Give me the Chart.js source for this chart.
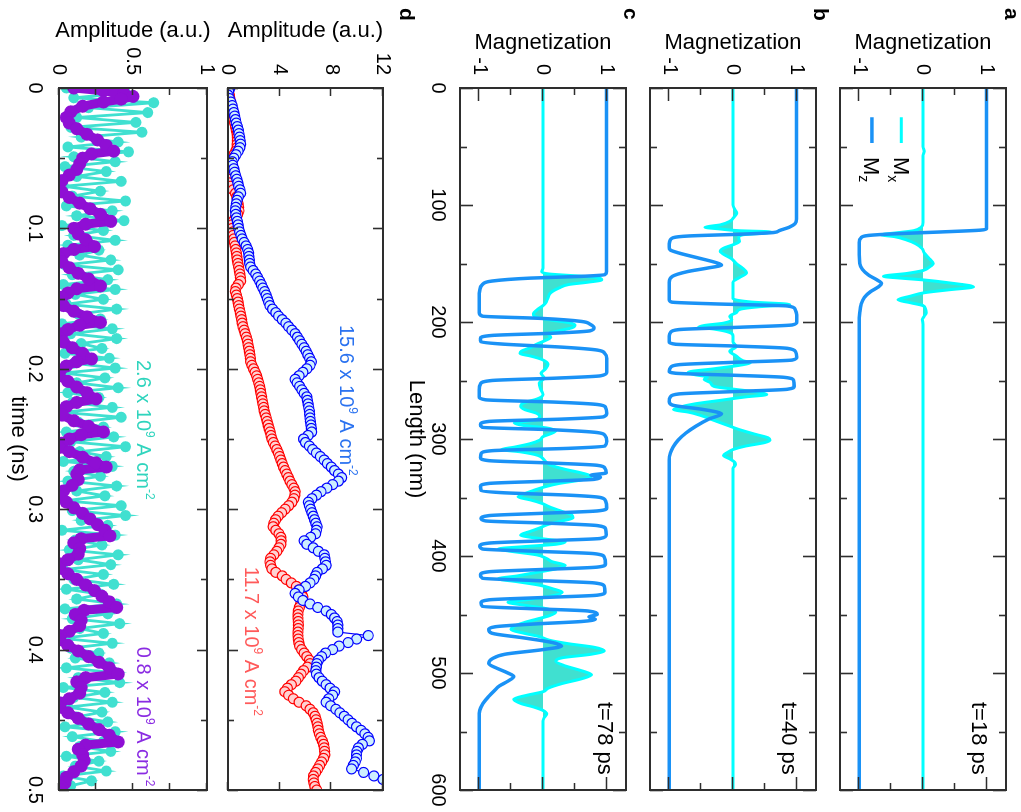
<!DOCTYPE html>
<html><head><meta charset="utf-8">
<script src="https://cdn.jsdelivr.net/npm/chart.js@4.4.1/dist/chart.umd.min.js"></script>
<style>
html,body{margin:0;padding:0;background:#fff;overflow:hidden;width:1021px;height:812px;}
#page{position:absolute;left:0;top:0;width:812px;height:1021px;transform-origin:0 0;transform:translate(1021px,0) rotate(90deg);background:#fff;}
#page canvas{position:absolute;left:0;}
</style></head><body>
<div id="page">
<canvas id="ca" width="812" height="200" style="top:0px"></canvas>
<canvas id="cb" width="812" height="200" style="top:190px"></canvas>
<canvas id="cc" width="812" height="250" style="top:380px"></canvas>
<canvas id="cd1" width="812" height="215" style="top:595px"></canvas>
<canvas id="cd2" width="812" height="231" style="top:790px"></canvas>
</div>
<script>
// ================= DATA =================
const lengthTicks = [0, 100, 200, 300, 400, 500, 600];
const lengthTickLabels = ['0', '100', '200', '300', '400', '500', '600'];
const lengthMinorTicks = [50, 150, 250, 350, 450, 550];
const magTicks = [-1, 0, 1];
const magTickLabels = ['-1', '0', '1'];
const magMinorTicks = [-0.5, 0.5];
const timeTicks = [0, 0.1, 0.2, 0.3, 0.4, 0.5];
const timeTickLabels = ['0', '0.1', '0.2', '0.3', '0.4', '0.5'];
const timeMinorTicks = [0.05, 0.15, 0.25, 0.35, 0.45];
const ampTopTicks = [0, 4, 8, 12];
const ampTopTickLabels = ['0', '4', '8', '12'];
const ampBottomTicks = [0, 0.5, 1];
const ampBottomTickLabels = ['0', '0.5', '1'];
const ampBottomMinorTicks = [0.25, 0.75];

// Panel a (t = 18 ps): [length nm, magnetization]
const aMz = [[0,0.995],[120.5,0.995],[121.5,0.9],[123,0.3],[124.5,-0.4],[126,-0.85],[128,-0.97],[132,-1.0],[150,-0.99],[155,-0.95],[160,-0.85],[164,-0.72],[167,-0.65],[170,-0.7],[174,-0.82],[179,-0.92],[185,-0.97],[192,-0.99],[200,-1.0],[600,-1.0]];
const aMx = [[0,0],[50,0],[54,0.02],[58,0],[115,0],[119,-0.03],[122,-0.15],[124,-0.45],[125.5,-0.67],[127,-0.45],[130,-0.25],[133,-0.12],[137,-0.02],[141,0.02],[146,0.1],[150,0.16],[153,0.1],[156,0.0],[158.5,-0.25],[161,-0.62],[162.5,-0.35],[164,0],[166.5,0.4],[170,0.79],[172.5,0.4],[175,0.02],[178,-0.2],[181,-0.39],[183.5,-0.2],[186,0],[189,0.04],[192,0.05],[195,0.02],[198,-0.01],[202,0],[600,0]];

// Panel b (t = 40 ps)
const bMz = [[0,0.995],[112,0.995],[116,0.97],[119,0.88],[122,0.72],[123.5,0.64],[125,0.1],[126.5,-0.7],[128,-0.94],[131,-0.99],[136,-1.0],[138.5,-0.98],[141,-0.85],[145.6,-0.52],[149.5,-0.25],[151.3,-0.18],[154,-0.41],[157,-0.72],[161,-0.95],[166,-1.0],[181,-1.0],[183,-0.96],[184.5,-0.3],[186.3,0.85],[189,0.97],[194,1.0],[200,1.0],[202.5,0.93],[204.5,0.1],[206.5,-0.85],[209,-0.98],[212,-1.0],[217,-1.0],[219,-0.9],[220.5,0.0],[222.5,0.85],[225.5,0.98],[230,1.0],[232.5,0.93],[234.5,0.0],[236.5,-0.85],[239,-0.98],[242,-1.0],[243.8,-0.9],[245.5,0.0],[247.3,0.8],[250,0.95],[255,0.96],[257.5,0.85],[259.5,0.0],[261.5,-0.85],[264,-0.98],[268,-1.0],[271,-0.95],[274.5,-0.5],[277,-0.25],[278.5,-0.18],[283,-0.38],[289,-0.58],[295,-0.74],[301,-0.86],[307,-0.94],[312,-0.98],[318,-1.0],[600,-1.0]];
const bMx = [[0,0],[100,0],[104,0.03],[107,0.06],[110,0.02],[114,-0.05],[117,-0.2],[119,-0.44],[120.5,-0.2],[122,0.1],[123,0.6],[124,0.5],[125.5,0.15],[128,0.09],[131,0.1],[134,0],[137,-0.15],[139.5,-0.2],[142,-0.15],[146,-0.02],[150,0.05],[154,0.15],[158,0.21],[162,0.1],[166,0.0],[180,0.0],[183,0.3],[185,0.89],[187,0.4],[189,0.12],[192,0.05],[195,-0.05],[198,-0.02],[201,-0.15],[203,-0.45],[204.5,-0.54],[206,-0.3],[209,-0.05],[212,0],[217,0.0],[221,0.05],[225,-0.05],[229,0.05],[233,0.15],[235,0.27],[237,0.1],[240,-0.3],[243,-0.7],[245,-0.6],[247,-0.4],[249,-0.45],[252,-0.35],[255,-0.3],[258,0.1],[260,0.4],[262,0.53],[264,0.2],[267,-0.2],[270,-0.6],[273,-0.85],[275,-0.93],[277,-0.7],[280,-0.5],[284,-0.3],[288,-0.1],[292,0.1],[296,0.35],[299,0.55],[301,0.58],[303,0.5],[306,0.2],[309,0.0],[312,-0.1],[314,-0.15],[317,-0.05],[320,0.03],[322,0.04],[325,0],[600,0]];

// Panel c (t = 78 ps)
const cMz = [[0,0.995],[157,0.995],[159.5,0.97],[161,0.6],[162.5,-0.2],[165,-0.8],[168,-0.95],[173,-0.99],[178,-1.0],[192,-1.0],[195,-0.95],[197,0.0],[199.5,0.6],[202,0.74],[205,0.8],[207.5,0.74],[209.5,0.2],[211.5,-0.8],[214,-0.98],[217,-0.97],[219,-0.6],[221.5,0.3],[224,0.85],[227,0.97],[231,1.0],[243,1.0],[246,0.9],[248,0.2],[250,-0.8],[253,-0.98],[258,-1.0],[264,-1.0],[266.5,-0.9],[268.5,0.2],[270.5,0.85],[273,0.98],[278,1.0],[281,0.95],[283,0.3],[285,-0.85],[287.5,-0.98],[290,-0.95],[292,0.1],[294.5,0.85],[297,0.97],[302,1.0],[306,0.97],[308,0.4],[310,-0.8],[312.5,-0.97],[316,-0.98],[318.5,-0.85],[320.5,0.1],[322.5,0.85],[325,0.97],[329,0.99],[331,0.75],[332.5,0.9],[334.5,0.8],[336,0.1],[338,-0.85],[340.5,-0.98],[344,-0.97],[346,-0.6],[348,0.4],[350,0.9],[353,0.98],[359,1.0],[361.5,0.85],[363.5,0.0],[365.5,-0.85],[368,-0.97],[370,-0.9],[372,0.1],[374,0.85],[377,0.98],[382,0.99],[385,0.9],[387,0.0],[389,-0.85],[391.5,-0.99],[394,-0.95],[396,-0.1],[398,0.8],[401,0.96],[407,0.98],[409.5,0.85],[411.5,0.0],[413.5,-0.85],[416,-0.98],[419,-0.95],[421,-0.1],[423,0.8],[426,0.96],[431,0.97],[433.5,0.85],[435.5,0.0],[437.5,-0.85],[440,-0.97],[443,-0.95],[445,-0.2],[447,0.7],[450,0.85],[452,0.72],[454,0.82],[456,0.6],[458,-0.1],[460.5,-0.75],[463,-0.85],[466,-0.8],[470,-0.3],[474,0.15],[477,0.29],[480,0.0],[484,-0.6],[488,-0.8],[492,-0.85],[496,-0.72],[500,-0.55],[503,-0.46],[507,-0.55],[511,-0.68],[515,-0.76],[520,-0.85],[526,-0.94],[532,-0.99],[538,-1.0],[600,-1.0]];
const cMx = [[0,0],[154,0],[157,-0.02],[159,0.1],[160.5,0.5],[162,0.85],[164,0.92],[166,0.7],[168,0.4],[171,0.25],[175,0.12],[179,0.08],[183,0.05],[186,0.0],[189,-0.08],[192,-0.14],[194,-0.15],[196.5,-0.06],[198.5,0.15],[200.5,0.4],[202.5,0.5],[205,0.45],[207.5,0.25],[210,0.08],[213,0.12],[216,0.03],[219,-0.1],[222,-0.2],[225,-0.34],[227,-0.36],[229,-0.2],[232,-0.02],[236,0.08],[240,0.04],[244,-0.03],[248,0.02],[252,-0.06],[257,-0.04],[262,0.0],[266,-0.1],[269,-0.3],[272,-0.35],[275,-0.28],[278,-0.1],[281,-0.05],[284,-0.15],[286.5,-0.45],[288.5,-0.3],[290.5,0.05],[293,0.2],[295.5,0.12],[298,0.0],[301,-0.05],[304,-0.2],[307,-0.45],[309,-0.65],[311,-0.35],[314,-0.08],[318,0.02],[322,0.1],[326,0.35],[329,0.6],[332,0.76],[335,0.6],[338,0.25],[341,0.02],[344,-0.15],[347,-0.3],[349.5,-0.39],[352,-0.2],[355,-0.02],[358,0.1],[362,0.3],[365,0.45],[367.5,0.47],[370,0.3],[373,0.08],[376,-0.05],[379,-0.2],[382,-0.35],[384,-0.2],[386,0.1],[388,0.35],[390,0.2],[392,-0.3],[394,-0.7],[396,-0.5],[399,-0.1],[402,0.05],[405,0.15],[408,0.35],[411,0.2],[414,-0.1],[417,-0.4],[419.5,-0.7],[422,-0.4],[425,-0.05],[428,0.15],[431,0.3],[434,0.15],[437,-0.2],[439.5,-0.55],[442,-0.3],[445,0.05],[448,0.2],[451,0.1],[454,-0.1],[457,-0.3],[460,-0.45],[463,-0.5],[466,-0.3],[469,-0.05],[472,0.1],[475,0.4],[478,0.8],[481,0.96],[484,0.75],[487,0.3],[490,0.2],[494,0.35],[498,0.6],[501.5,0.76],[505,0.6],[509,0.3],[513,0.08],[516,0.0],[519,-0.25],[522.5,-0.46],[526,-0.35],[529,-0.15],[532,0.0],[535,0.06],[538,0.02],[541,0.0],[600,0]];

// Panel d (top): amplitude vs time, sampled every 0.0025 ns
const dSampleStep = 0.0025;
const amp156 = [0.15,0.05,0.0,0.1,0.22,0.32,0.38,0.45,0.52,0.58,
 0.64,0.72,0.8,0.85,0.9,0.94,0.97,0.92,0.78,0.62,
 0.45,0.33,0.36,0.45,0.52,0.6,0.68,0.76,0.83,0.93,
 0.97,0.8,0.7,0.65,0.6,0.57,0.6,0.66,0.72,0.78,
 0.83,0.9,1.0,1.1,1.25,1.4,1.52,1.6,1.62,1.65,
 1.68,1.75,1.95,2.15,2.3,2.45,2.58,2.7,2.84,2.95,
 3.05,3.15,3.25,3.45,3.7,3.92,4.2,4.48,4.7,4.95,
 5.2,5.38,5.55,5.72,5.9,6.05,6.18,6.32,6.45,6.35,
 6.1,5.8,5.5,5.2,5.35,5.55,5.72,5.9,6.1,6.15,
 6.2,6.25,6.3,6.32,6.35,6.38,6.42,6.45,6.48,6.2,
 5.85,6.0,6.3,6.55,6.85,7.15,7.45,7.7,8.0,8.25,
 8.55,8.8,8.55,8.1,7.65,7.2,6.85,6.5,6.22,6.3,
 6.4,6.5,6.6,6.7,6.8,6.9,6.85,6.78,6.4,5.9,
 6.1,6.6,7.0,7.45,7.5,7.55,7.6,7.3,6.9,6.78,
 6.65,6.35,6.0,5.5,5.2,5.45,5.8,6.35,6.95,7.6,
 8.0,8.25,8.45,8.5,8.5,8.5,10.86,9.96,9.3,8.6,
 8.1,7.55,7.25,7.0,6.88,6.84,6.8,6.85,7.05,7.3,
 7.6,7.9,8.25,8.1,7.8,7.6,7.95,8.35,8.66,9.0,
 9.3,9.6,9.95,10.3,10.6,10.85,10.95,10.4,10.1,9.98,
 9.95,9.95,9.85,9.7,9.57,10.5,11.3,12.0];
const amp117 = [0.0,0.05,0.1,0.15,0.2,0.25,0.3,0.35,0.4,0.45,
 0.52,0.58,0.64,0.7,0.72,0.72,0.71,0.7,0.6,0.45,
 0.32,0.2,0.15,0.1,0.06,0.04,0.03,0.05,0.2,0.4,
 0.58,0.68,0.72,0.78,0.83,0.85,0.75,0.55,0.4,0.3,
 0.32,0.36,0.4,0.45,0.5,0.55,0.6,0.65,0.68,0.72,
 0.77,0.82,0.87,0.92,0.96,0.98,0.8,0.62,0.57,0.65,
 0.72,0.78,0.83,0.88,0.95,1.0,1.06,1.1,1.16,1.25,
 1.33,1.42,1.5,1.55,1.6,1.65,1.7,1.73,1.75,1.85,
 1.98,2.1,2.22,2.3,2.38,2.45,2.5,2.55,2.6,2.65,
 2.7,2.76,2.8,2.88,2.96,3.03,3.1,3.18,3.26,3.33,
 3.4,3.52,3.65,3.78,3.9,4.0,4.1,4.2,4.3,4.42,
 4.55,4.68,4.8,4.95,5.1,5.2,5.18,5.1,4.95,4.7,
 4.42,4.15,3.88,3.68,3.55,3.5,3.7,3.95,4.1,4.12,
 4.1,3.95,3.78,3.55,3.3,3.25,3.3,3.4,3.7,4.2,
 4.5,4.9,5.3,5.5,5.7,5.8,5.72,5.62,5.52,5.44,
 5.42,5.42,5.44,5.45,5.44,5.42,5.42,5.44,5.48,5.55,
 5.7,5.9,6.1,6.3,6.35,6.15,5.85,5.65,5.45,5.25,
 4.9,4.6,4.4,4.7,5.06,5.5,6.05,6.35,6.6,6.74,
 6.82,6.9,6.96,7.0,7.08,7.18,7.3,7.4,7.45,7.48,
 7.5,7.4,7.25,7.1,6.95,6.78,6.62,6.6,6.65,6.72,
 6.87];

// Panel d (bottom)
const tealStep = 0.0035;
const amp26 = [0.05,0.45,0.10,0.64,0.20,0.60,0.12,0.52,0.08,0.56,
 0.15,0.40,0.06,0.47,0.10,0.38,0.04,0.32,0.12,0.42,
 0.03,0.28,0.09,0.45,0.05,0.36,0.12,0.44,0.02,0.30,
 0.10,0.38,0.06,0.27,0.14,0.35,0.04,0.40,0.09,0.33,
 0.03,0.38,0.11,0.30,0.05,0.39,0.13,0.28,0.02,0.36,
 0.08,0.39,0.15,0.29,0.04,0.34,0.10,0.38,0.03,0.31,
 0.12,0.40,0.06,0.27,0.09,0.36,0.02,0.42,0.13,0.30,
 0.05,0.37,0.08,0.45,0.14,0.32,0.03,0.36,0.10,0.28,
 0.06,0.39,0.12,0.31,0.04,0.42,0.09,0.45,0.15,0.33,
 0.02,0.38,0.11,0.29,0.07,0.40,0.13,0.35,0.03,0.30,
 0.10,0.37,0.05,0.28,0.12,0.39,0.04,0.33,0.09,0.41,
 0.14,0.30,0.02,0.36,0.08,0.27,0.11,0.34,0.05,0.38,
 0.13,0.41,0.03,0.31,0.10,0.36,0.06,0.29,0.12,0.33,
 0.04,0.38,0.09,0.30,0.14,0.35,0.05,0.27,0.11,0.32,
 0.03,0.22,0.08];
const amp08 = [[0.000,0.10],[0.002,0.30],[0.004,0.44],[0.006,0.50],[0.008,0.42],[0.010,0.30],[0.013,0.16],[0.017,0.08],[0.021,0.05],[0.025,0.07],[0.029,0.12],[0.033,0.19],[0.037,0.26],[0.041,0.32],[0.045,0.37],[0.047,0.22],[0.050,0.16],[0.054,0.14],[0.058,0.12],[0.062,0.07],[0.066,0.02],[0.070,0.00],[0.074,0.02],[0.078,0.07],[0.082,0.14],[0.086,0.21],[0.090,0.28],[0.095,0.35],[0.097,0.18],[0.100,0.10],[0.104,0.13],[0.108,0.18],[0.113,0.24],[0.115,0.10],[0.118,0.03],[0.121,0.00],[0.124,0.02],[0.128,0.07],[0.132,0.13],[0.136,0.20],[0.141,0.28],[0.143,0.12],[0.146,0.06],[0.149,0.02],[0.152,0.00],[0.155,0.03],[0.159,0.10],[0.163,0.19],[0.167,0.28],[0.169,0.14],[0.172,0.06],[0.175,0.02],[0.178,0.00],[0.181,0.03],[0.185,0.09],[0.189,0.16],[0.193,0.22],[0.195,0.12],[0.198,0.05],[0.201,0.01],[0.205,0.00],[0.209,0.06],[0.213,0.12],[0.217,0.19],[0.2215,0.25],[0.224,0.12],[0.227,0.05],[0.230,0.01],[0.233,0.02],[0.237,0.10],[0.241,0.20],[0.245,0.30],[0.247,0.15],[0.250,0.07],[0.253,0.02],[0.256,0.00],[0.259,0.07],[0.263,0.16],[0.267,0.25],[0.270,0.32],[0.272,0.14],[0.275,0.12],[0.279,0.13],[0.283,0.09],[0.287,0.03],[0.291,0.00],[0.295,0.05],[0.299,0.10],[0.303,0.16],[0.307,0.21],[0.311,0.26],[0.315,0.31],[0.319,0.345],[0.321,0.15],[0.324,0.10],[0.328,0.14],[0.332,0.13],[0.336,0.06],[0.339,0.01],[0.342,0.00],[0.346,0.06],[0.350,0.12],[0.354,0.18],[0.358,0.24],[0.362,0.29],[0.366,0.34],[0.370,0.39],[0.372,0.17],[0.375,0.11],[0.379,0.15],[0.383,0.14],[0.387,0.07],[0.390,0.01],[0.393,0.00],[0.397,0.06],[0.401,0.13],[0.405,0.20],[0.409,0.27],[0.413,0.34],[0.4174,0.40],[0.420,0.18],[0.423,0.12],[0.427,0.15],[0.431,0.14],[0.435,0.07],[0.438,0.01],[0.441,0.00],[0.445,0.06],[0.449,0.13],[0.453,0.20],[0.457,0.27],[0.461,0.34],[0.4658,0.40],[0.468,0.18],[0.471,0.13],[0.475,0.16],[0.479,0.17],[0.483,0.15],[0.487,0.10],[0.491,0.05],[0.495,0.04],[0.498,0.02],[0.500,0.01]];

// Texts
const noteBlue = [['15.6 x 10'], ['9', 'sup'], [' A cm'], ['-2', 'sup']];
const noteRed = [['11.7 x 10'], ['9', 'sup'], [' A cm'], ['-2', 'sup']];
const noteTeal = [['2.6 x 10'], ['9', 'sup'], [' A cm'], ['-2', 'sup']];
const notePurple = [['0.8 x 10'], ['9', 'sup'], [' A cm'], ['-2', 'sup']];

// ================= RENDERING =================
const FONT = '"Liberation Sans", Arial, Helvetica, sans-serif';
const MZ_COLOR = '#1a92f6';
const MX_LINE = '#00ffff';
const MX_FILL = '#40e0d0';

function drawRich(ctx, parts, x, y, color, align, size) {
  const base = size + 'px ' + FONT;
  const small = Math.round(size * 0.62) + 'px ' + FONT;
  let w = 0;
  parts.forEach(p => { ctx.font = p[1] ? small : base; w += ctx.measureText(p[0]).width; });
  let cx = align === 'right' ? x - w : x;
  ctx.fillStyle = color; ctx.textBaseline = 'alphabetic'; ctx.textAlign = 'left';
  parts.forEach(p => {
    ctx.font = p[1] ? small : base;
    const dy = p[1] === 'sup' ? -size * 0.45 : (p[1] === 'sub' ? size * 0.25 : 0);
    ctx.fillText(p[0], cx, y + dy);
    cx += ctx.measureText(p[0]).width;
  });
}

const framePlugin = {
  id: 'frame',
  afterDatasetsDraw(chart, args, o) {
    const {ctx, chartArea: a} = chart;
    const xs = chart.scales.x, ys = chart.scales.y;
    ctx.save();
    ctx.strokeStyle = '#2e2e2e';
    ctx.lineWidth = 1.6;
    const xt = (vals, len) => vals.forEach(v => {
      const p = Math.round(xs.getPixelForValue(v)) + 0.5;
      ctx.beginPath(); ctx.moveTo(p, a.bottom); ctx.lineTo(p, a.bottom - len);
      ctx.moveTo(p, a.top); ctx.lineTo(p, a.top + len); ctx.stroke();
    });
    const yt = (vals, len) => vals.forEach(v => {
      const p = Math.round(ys.getPixelForValue(v)) + 0.5;
      ctx.beginPath(); ctx.moveTo(a.left, p); ctx.lineTo(a.left + len, p);
      ctx.moveTo(a.right, p); ctx.lineTo(a.right - len, p); ctx.stroke();
    });
    xt(o.xMajor || [], o.xMajorLen); xt(o.xMinor || [], o.xMinorLen);
    yt(o.yMajor || [], o.yMajorLen); yt(o.yMinor || [], o.yMinorLen);
    ctx.lineWidth = 2;
    ctx.strokeRect(a.left, a.top, a.right - a.left, a.bottom - a.top);
    ctx.restore();
  }
};

const notesPlugin = {
  id: 'notes',
  afterDraw(chart, args, o) {
    const {ctx} = chart;
    const xs = chart.scales.x, ys = chart.scales.y;
    ctx.save();
    (o.lines || []).forEach(l => {
      ctx.strokeStyle = l.color; ctx.lineWidth = l.width;
      const y = ys.getPixelForValue(l.y);
      ctx.beginPath(); ctx.moveTo(xs.getPixelForValue(l.x1), y); ctx.lineTo(xs.getPixelForValue(l.x2), y); ctx.stroke();
    });
    (o.texts || []).forEach(t => {
      drawRich(ctx, t.parts, xs.getPixelForValue(t.x), ys.getPixelForValue(t.y), t.color, t.align, t.size);
    });
    if (o.letter) {
      ctx.font = 'bold 21px ' + FONT; ctx.fillStyle = '#000';
      ctx.textAlign = 'left'; ctx.textBaseline = 'alphabetic';
      ctx.fillText(o.letter.text, o.letter.px, o.letter.py);
    }
    ctx.restore();
  }
};

function yAxis(min, max, ticks, labels, title, titlePad) {
  return {
    type: 'linear', position: 'left', min: min, max: max,
    grid: {display: false}, border: {display: false},
    afterBuildTicks: s => { s.ticks = ticks.map(v => ({value: v})); },
    ticks: {autoSkip: false, color: '#000', padding: 5, font: {family: FONT, size: 20}, callback: (v, i) => labels[i]},
    title: {display: true, text: title, color: '#000', font: {family: FONT, size: 22}, padding: {top: titlePad, bottom: 0}},
    afterFit: s => { s.width = 88; s.paddingTop = 0; s.paddingBottom = 0; }
  };
}
function xAxis(max, ticks, labels, show, title, height, labelPad, titlePadBottom) {
  return {
    type: 'linear', position: 'bottom', min: 0, max: max,
    grid: {display: false}, border: {display: false},
    afterBuildTicks: s => { s.ticks = ticks.map(v => ({value: v})); },
    ticks: {display: show, autoSkip: false, maxRotation: 0, minRotation: 0, color: '#000', padding: labelPad, font: {family: FONT, size: 20}, callback: (v, i) => labels[i]},
    title: {display: !!title, text: title || '', color: '#000', font: {family: FONT, size: 22}, padding: {top: 0, bottom: titlePadBottom}},
    afterFit: s => { s.height = height; s.paddingLeft = 0; s.paddingRight = 0; }
  };
}
const toXY = arr => arr.map(p => ({x: p[0], y: p[1]}));

function magChart(id, mz, mx, showX, xH, timeText, timeY, letter, letterPy, legend) {
  const notes = {
    texts: [{parts: [[timeText]], x: 587, y: timeY, color: '#000', align: 'right', size: 22}],
    letter: {text: letter, px: 8, py: letterPy}
  };
  if (legend) {
    notes.lines = [
      {x1: 25, x2: 47, y: -0.34, color: MX_LINE, width: 3},
      {x1: 25, x2: 47, y: -0.80, color: MZ_COLOR, width: 3.5}
    ];
    notes.texts.push({parts: [['M'], ['x', 'sub']], x: 59, y: -0.34 - 0.12, color: '#000', align: 'left', size: 22});
    notes.texts.push({parts: [['M'], ['z', 'sub']], x: 59, y: -0.80 - 0.12, color: '#000', align: 'left', size: 22});
  }
  return new Chart(document.getElementById(id), {
    type: 'line',
    data: {datasets: [
      {label: 'Mz', data: toXY(mz), borderColor: MZ_COLOR, borderWidth: 3.5, pointRadius: 0, fill: false, cubicInterpolationMode: 'monotone'},
      {label: 'Mx', data: toXY(mx), borderColor: MX_LINE, backgroundColor: MX_FILL, borderWidth: 3, pointRadius: 0, fill: 'origin', cubicInterpolationMode: 'monotone'}
    ]},
    options: {
      responsive: false, animation: false, events: [],
      layout: {padding: {top: 15, right: 22, left: 0, bottom: 0}},
      plugins: {
        legend: {display: false}, tooltip: {enabled: false},
        frame: {xMajor: lengthTicks, xMinor: lengthMinorTicks, yMajor: magTicks, yMinor: magMinorTicks, xMajorLen: 13, xMinorLen: 7, yMajorLen: 13, yMinorLen: 7},
        notes: notes
      },
      scales: {
        x: xAxis(600, lengthTicks, lengthTickLabels, showX, showX ? 'Length (nm)' : '', xH, 2, 12),
        y: yAxis(-1.3, 1.3, magTicks, magTickLabels, 'Magnetization', 30)
      }
    },
    plugins: [framePlugin, notesPlugin]
  });
}

magChart('ca', aMz, aMx, false, 19, 't=18 ps', 0.77, 'a', 16, true);
magChart('cb', bMz, bMx, false, 19, 't=40 ps', 0.77, 'b', 17, false);
magChart('cc', cMz, cMx, true, 69, 't=78 ps', 0.86, 'c', 17, false);

// Panel d top
new Chart(document.getElementById('cd1'), {
  type: 'line',
  data: {datasets: [
    {label: '15.6', data: amp156.map((v, i) => ({x: i * dSampleStep, y: v})), borderColor: '#0000ff', borderWidth: 1.2,
     pointRadius: 5, pointBorderWidth: 1.2, pointBorderColor: '#0000ff', pointBackgroundColor: '#cdeeff', tension: 0},
    {label: '11.7', data: amp117.map((v, i) => ({x: i * dSampleStep, y: v})), borderColor: '#ff0000', borderWidth: 1.2,
     pointRadius: 5, pointBorderWidth: 1.2, pointBorderColor: '#ff0000', pointBackgroundColor: '#ffd2d2', tension: 0}
  ]},
  options: {
    responsive: false, animation: false, events: [],
    layout: {padding: {top: 43, right: 22, left: 0, bottom: 0}},
    plugins: {
      legend: {display: false}, tooltip: {enabled: false},
      frame: {xMajor: timeTicks, xMinor: timeMinorTicks, yMajor: ampTopTicks, yMinor: [], xMajorLen: 10, xMinorLen: 6, yMajorLen: 8, yMinorLen: 0},
      notes: {
        texts: [
          {parts: noteBlue, x: 0.1688, y: 8.67, color: '#2a72f0', align: 'left', size: 20},
          {parts: noteRed, x: 0.341, y: 1.32, color: '#ff5a5a', align: 'left', size: 20}
        ],
        letter: {text: 'd', px: 8, py: 26}
      }
    },
    scales: {
      x: xAxis(0.5, timeTicks, timeTickLabels, false, '', 17, 5, 0),
      y: yAxis(0, 12, ampTopTicks, ampTopTickLabels, 'Amplitude (a.u.)', 18)
    }
  },
  plugins: [framePlugin, notesPlugin]
});

// Panel d bottom
new Chart(document.getElementById('cd2'), {
  type: 'line',
  data: {datasets: [
    {label: '0.8', data: toXY(amp08), borderColor: '#8f0fd4', borderWidth: 9, pointRadius: 6.5, pointBorderWidth: 0,
     pointBackgroundColor: '#8f0fd4', tension: 0, borderJoinStyle: 'round', borderCapStyle: 'round'},
    {label: '2.6', data: amp26.map((v, i) => ({x: i * tealStep, y: v})), borderColor: '#40e0d0', borderWidth: 2.8, pointRadius: 5.5, pointBorderWidth: 0,
     pointBackgroundColor: '#40e0d0', tension: 0}
  ]},
  options: {
    responsive: false, animation: false, events: [],
    layout: {padding: {top: 24, right: 22, left: 0, bottom: 0}},
    plugins: {
      legend: {display: false}, tooltip: {enabled: false},
      frame: {xMajor: timeTicks, xMinor: timeMinorTicks, yMajor: ampBottomTicks, yMinor: ampBottomMinorTicks, xMajorLen: 10, xMinorLen: 6, yMajorLen: 7, yMinorLen: 7},
      notes: {
        texts: [
          {parts: noteTeal, x: 0.1937, y: 0.527, color: '#2fd4bd', align: 'left', size: 20},
          {parts: notePurple, x: 0.398, y: 0.527, color: '#8a2be2', align: 'left', size: 20}
        ]
      }
    },
    scales: {
      x: xAxis(0.5, timeTicks, timeTickLabels, true, 'time (ns)', 59, 4, 5),
      y: yAxis(0, 1, ampBottomTicks, ampBottomTickLabels, 'Amplitude (a.u.)', 18)
    }
  },
  plugins: [framePlugin, notesPlugin]
});
</script>
</body></html>
